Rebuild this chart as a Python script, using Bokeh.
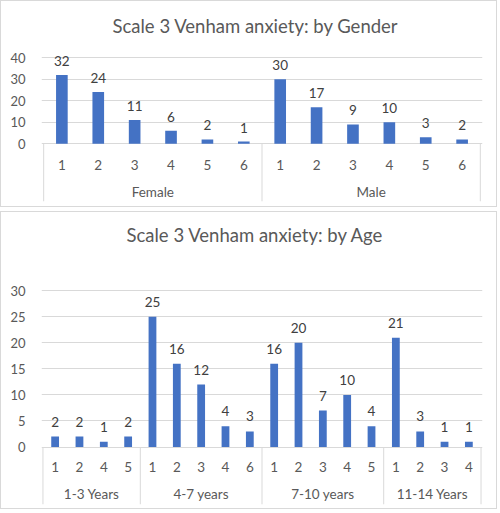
import numpy as np
from bokeh.plotting import figure
from bokeh.models import (FactorRange, ColumnDataSource, LabelSet,
                          FixedTicker, Range1d)
from bokeh.core.properties import value
from bokeh.layouts import column
from bokeh.embed import file_html
from bokeh.resources import INLINE

# ---------------- data ----------------
gender_title = "Scale 3 Venham anxiety: by Gender"
gender_groups = ["Female", "Male"]
female_levels = ["1", "2", "3", "4", "5", "6"]
female_counts = [32, 24, 11, 6, 2, 1]
male_levels = ["1", "2", "3", "4", "5", "6"]
male_counts = [30, 17, 9, 10, 3, 2]
gender_ticks = [0, 10, 20, 30, 40]

age_title = "Scale 3 Venham anxiety: by Age"
age_groups = ["1-3 Years", "4-7 years", "7-10 years", "11-14 Years"]
age_1_3_levels = ["1", "2", "4", "5"]
age_1_3_counts = [2, 2, 1, 2]
age_4_7_levels = ["1", "2", "3", "4", "6"]
age_4_7_counts = [25, 16, 12, 4, 3]
age_7_10_levels = ["1", "2", "3", "4", "5"]
age_7_10_counts = [16, 20, 7, 10, 4]
age_11_14_levels = ["1", "2", "3", "4"]
age_11_14_counts = [21, 3, 1, 1]
age_ticks = [0, 5, 10, 15, 20, 25, 30]

# ---------------- style ----------------
FONT = "Lato"
BAR = "#4472C4"
GRID = "#d9d9d9"
AXTXT = "#595959"
LBLTXT = "#404040"


def make_panel(title, groups, levels, counts, ticks, *, frame_w, frame_h,
               border_left, border_right, border_top, border_bottom,
               zero_above_bottom, px_per_unit, bar_width, label_gap,
               tick_drop, group_drop, title_offset, title_standoff):
    factors = [(g, l) for g, lv in zip(groups, levels) for l in lv]
    values = [c for cs in counts for c in cs]
    y0 = -zero_above_bottom / px_per_unit
    y1 = y0 + frame_h / px_per_unit

    xr = FactorRange(*factors, factor_padding=0, group_padding=0,
                     range_padding=0.06, range_padding_units="absolute")
    p = figure(x_range=xr, y_range=Range1d(y0, y1),
               frame_width=frame_w, frame_height=frame_h,
               output_backend="svg", toolbar_location=None,
               min_border_left=border_left, min_border_right=border_right,
               min_border_top=border_top, min_border_bottom=border_bottom,
               styles={"border": "1px solid #d9d9d9"})
    p.title.text = title
    p.title.align = "left"
    p.title.offset = title_offset
    p.title.standoff = title_standoff
    p.title.text_font = FONT
    p.title.text_font_size = "18.5px"
    p.title.text_font_style = "normal"
    p.title.text_color = AXTXT

    p.outline_line_color = None
    p.background_fill_color = "white"
    p.border_fill_color = "white"
    p.xaxis.visible = False
    p.xgrid.visible = False
    p.yaxis.ticker = FixedTicker(ticks=ticks)
    p.yaxis.axis_line_color = None
    p.yaxis.major_tick_line_color = None
    p.yaxis.minor_tick_line_color = None
    p.yaxis.major_label_text_font = FONT
    p.yaxis.major_label_text_font_size = "13px"
    p.yaxis.major_label_text_color = AXTXT
    p.yaxis.major_label_standoff = 10
    p.ygrid.grid_line_color = GRID
    p.ygrid.grid_line_width = 1

    src = ColumnDataSource(dict(x=factors, top=values,
                                label=[str(v) for v in values],
                                level=[f[1] for f in factors],
                                zero=[0] * len(values)))
    p.vbar(x="x", top="top", width=bar_width, source=src,
           fill_color=BAR, line_color=None)

    p.add_layout(LabelSet(x="x", y="top", text="label", source=src,
                          y_offset=label_gap, text_align="center",
                          text_baseline="middle", text_font=value(FONT),
                          text_font_size=value("13.5px"), text_color=LBLTXT))
    p.add_layout(LabelSet(x="x", y="zero", text="level", source=src,
                          y_offset=-tick_drop, text_align="center",
                          text_baseline="middle", text_font=value(FONT),
                          text_font_size=value("13.5px"), text_color=AXTXT))
    gsrc = ColumnDataSource(dict(x=groups, zero=[0] * len(groups)))
    p.add_layout(LabelSet(x="x", y="zero", text="x", source=gsrc,
                          y_offset=-group_drop, text_align="center",
                          text_baseline="middle", text_font=value(FONT),
                          text_font_size=value("13.5px"), text_color=AXTXT))

    bounds = np.cumsum([0] + [len(lv) for lv in levels]).astype(float)
    p.segment(x0=bounds, y0=[0] * len(bounds), x1=bounds,
              y1=[y0] * len(bounds), line_color=GRID, line_width=1)
    return p


top = make_panel(gender_title, gender_groups,
                 [female_levels, male_levels],
                 [female_counts, male_counts], gender_ticks,
                 frame_w=439, frame_h=154, border_left=40, border_right=16,
                 border_top=44, border_bottom=7,
                 zero_above_bottom=57, px_per_unit=85 / 40,
                 bar_width=0.32, label_gap=14, tick_drop=21, group_drop=48,
                 title_offset=71, title_standoff=18)

bottom = make_panel(age_title, age_groups,
                    [age_1_3_levels, age_4_7_levels, age_7_10_levels,
                     age_11_14_levels],
                    [age_1_3_counts, age_4_7_counts, age_7_10_counts,
                     age_11_14_counts], age_ticks,
                    frame_w=439, frame_h=248, border_left=40, border_right=16,
                    border_top=42, border_bottom=6,
                    zero_above_bottom=57, px_per_unit=155 / 30,
                    bar_width=0.32, label_gap=15, tick_drop=20, group_drop=47,
                    title_offset=85, title_standoff=18)

layout = column(top, bottom, spacing=4)

with open("out.html", "w") as f:
    f.write(file_html(layout, INLINE))
